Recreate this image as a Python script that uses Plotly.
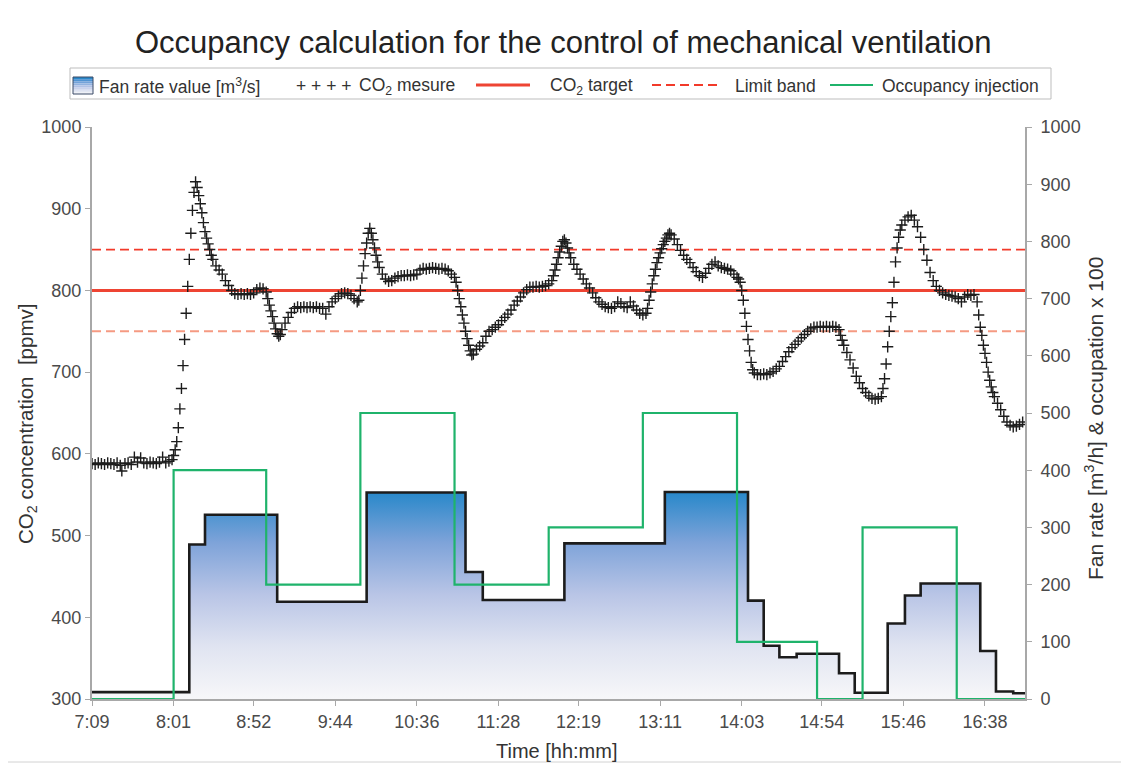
import plotly.graph_objects as go

title_text = "Occupancy calculation for the control of mechanical ventilation"

x_tick_labels = ["7:09", "8:01", "8:52", "9:44", "10:36", "11:28", "12:19",
                 "13:11", "14:03", "14:54", "15:46", "16:38"]
x_start = "7:09"
x_end = "17:03:30"

co2_time = [
    "7:09", "7:11", "7:13", "7:15", "7:17", "7:19", "7:21", "7:23", "7:25", "7:27",
    "7:28", "7:30", "7:32", "7:34", "7:36", "7:38", "7:40", "7:42", "7:44", "7:46",
    "7:48", "7:50", "7:52", "7:54", "7:56", "7:58", "8:00", "8:01", "8:02", "8:03",
    "8:04", "8:05", "8:06", "8:07", "8:08", "8:09", "8:10", "8:11", "8:12", "8:13",
    "8:14", "8:15", "8:16", "8:17", "8:18", "8:19", "8:20", "8:21", "8:22", "8:23",
    "8:24", "8:25", "8:26", "8:28", "8:30", "8:32", "8:34", "8:36", "8:38", "8:40",
    "8:42", "8:44", "8:46", "8:48", "8:50", "8:52", "8:54", "8:56", "8:58", "9:00",
    "9:01", "9:02", "9:03", "9:04", "9:05", "9:06", "9:07", "9:08", "9:09", "9:10",
    "9:12", "9:14", "9:16", "9:18", "9:20", "9:22", "9:24", "9:26", "9:28", "9:30",
    "9:32", "9:34", "9:36", "9:38", "9:40", "9:42", "9:44", "9:46", "9:48", "9:50",
    "9:52", "9:54", "9:56", "9:58", "9:59", "10:00", "10:01", "10:02", "10:03", "10:04",
    "10:05", "10:06", "10:07", "10:08", "10:09", "10:10", "10:11", "10:12", "10:14", "10:16",
    "10:18", "10:20", "10:22", "10:24", "10:26", "10:28", "10:30", "10:32", "10:34", "10:36",
    "10:38", "10:40", "10:42", "10:44", "10:46", "10:48", "10:50", "10:52", "10:54", "10:56",
    "10:58", "11:00", "11:01", "11:02", "11:03", "11:04", "11:05", "11:06", "11:07", "11:08",
    "11:09", "11:10", "11:11", "11:12", "11:14", "11:16", "11:18", "11:20", "11:22", "11:24",
    "11:26", "11:28", "11:30", "11:32", "11:34", "11:36", "11:38", "11:40", "11:42", "11:44",
    "11:46", "11:48", "11:50", "11:52", "11:54", "11:56", "11:58", "12:00", "12:02", "12:03",
    "12:04", "12:05", "12:06", "12:07", "12:08", "12:09", "12:10", "12:11", "12:12", "12:13",
    "12:14", "12:16", "12:18", "12:20", "12:22", "12:24", "12:26", "12:28", "12:30", "12:32",
    "12:34", "12:36", "12:38", "12:40", "12:42", "12:44", "12:46", "12:48", "12:50", "12:52",
    "12:54", "12:56", "12:58", "13:00", "13:02", "13:03", "13:04", "13:05", "13:06", "13:07",
    "13:08", "13:09", "13:10", "13:11", "13:12", "13:13", "13:14", "13:15", "13:16", "13:17",
    "13:18", "13:20", "13:22", "13:24", "13:26", "13:28", "13:30", "13:32", "13:34", "13:36",
    "13:38", "13:40", "13:42", "13:44", "13:46", "13:48", "13:50", "13:52", "13:54", "13:56",
    "13:58", "14:00", "14:01", "14:02", "14:03", "14:04", "14:05", "14:06", "14:07", "14:08",
    "14:09", "14:10", "14:11", "14:13", "14:15", "14:17", "14:19", "14:21", "14:23", "14:25",
    "14:27", "14:29", "14:31", "14:33", "14:35", "14:37", "14:39", "14:41", "14:43", "14:45",
    "14:47", "14:49", "14:51", "14:53", "14:55", "14:57", "14:59", "15:01", "15:03", "15:05",
    "15:06", "15:07", "15:08", "15:10", "15:12", "15:14", "15:16", "15:18", "15:20", "15:22",
    "15:24", "15:26", "15:28", "15:30", "15:32", "15:33", "15:34", "15:35", "15:36", "15:37",
    "15:38", "15:39", "15:40", "15:41", "15:42", "15:43", "15:44", "15:45", "15:47", "15:49",
    "15:51", "15:53", "15:55", "15:57", "15:59", "16:01", "16:03", "16:05", "16:07", "16:09",
    "16:11", "16:13", "16:15", "16:17", "16:19", "16:21", "16:23", "16:25", "16:27", "16:29",
    "16:31", "16:33", "16:34", "16:35", "16:36", "16:37", "16:38", "16:39", "16:40", "16:41",
    "16:42", "16:43", "16:44", "16:46", "16:48", "16:50", "16:52", "16:54", "16:56", "16:58",
    "17:00", "17:02",
]
co2_ppm = [
    588, 587, 589, 588, 587, 589, 588, 587, 589, 586,
    579, 588, 589, 587, 596, 590, 595, 589, 588, 590,
    589, 588, 590, 596, 589, 591, 593, 598, 605, 615,
    632, 655, 680, 708, 740, 772, 805, 838, 870, 898,
    920, 933, 926, 916, 906, 895, 883, 872, 864, 857,
    850, 843, 838, 830, 825, 820, 812, 806, 800, 796,
    795, 796, 795, 796, 795, 797, 801, 803, 802, 798,
    790, 782, 775, 768, 760, 753, 747, 744, 746, 752,
    760, 767, 773, 778, 780, 779, 780, 779, 780, 779,
    780, 778, 778, 771, 780, 786, 790, 793, 796, 797,
    796, 794, 790, 786, 788, 800, 815, 830, 845, 858,
    870, 876, 870, 862, 852, 843, 835, 828, 820, 814,
    811, 812, 815, 817, 818, 818, 819, 818, 819, 820,
    825, 827, 826, 827, 828, 827, 826, 827, 826, 824,
    820, 816, 810, 800, 790, 780, 770, 760, 750, 741,
    733, 726, 721, 722, 728, 732, 736, 744, 750, 752,
    755, 758, 763, 767, 771, 776, 782, 787, 792, 797,
    801, 804, 804, 805, 804, 805, 806, 808, 812, 818,
    825, 832, 840, 847, 854, 860, 862, 858, 852, 846,
    840, 832, 826, 820, 814, 808, 803, 797, 791, 786,
    783, 780, 779, 778, 780, 786, 784, 780, 779, 786,
    781, 776, 772, 770, 772, 778, 788, 798, 808, 818,
    826, 834, 840, 846, 851, 856, 860, 864, 868, 870,
    868, 863, 856, 849, 843, 838, 834, 828, 823, 818,
    816, 821, 827, 832, 835, 830, 828, 827, 826, 824,
    820, 816, 814, 810, 800, 788, 772, 756, 740, 726,
    712, 703, 699, 697, 697, 698, 697, 699, 701, 704,
    707, 713, 719, 725, 730, 734, 738, 742, 746, 750,
    753, 755, 755, 756, 755, 756, 755, 756, 755, 752,
    745, 739, 733, 724, 715, 705, 695, 687, 680, 675,
    671, 668, 667, 668, 670, 680, 692, 710, 731, 750,
    768, 785, 810, 835, 852, 865, 874, 880, 886, 890,
    892, 886, 878, 865, 850, 837, 822, 812, 805, 800,
    797, 795, 794, 793, 792, 790, 786, 792, 795, 794,
    795, 786, 770, 755, 745, 733, 723, 712, 700, 690,
    682, 675, 670, 662, 654, 646, 639, 635, 633, 634,
    636, 639,
]

fan_time = ["7:09", "8:11", "8:21", "9:07", "10:04", "11:07", "11:18", "12:10",
            "13:14", "14:07", "14:17", "14:27", "14:38", "15:05", "15:15", "15:36",
            "15:47", "15:57", "16:35", "16:45", "16:56", "17:03:30"]
fan_rate = [12, 270, 322, 170, 361, 222, 173, 272,
            362, 172, 93, 73, 79, 45, 11, 132,
            181, 202, 84, 13, 10, 10]

occ_time = ["7:09", "8:01", "9:00", "10:00", "11:00", "12:00", "13:00",
            "14:00", "14:51", "15:20", "16:20", "17:03:30"]
occ_value = [0, 400, 200, 500, 200, 300, 500, 100, 0, 300, 0, 0]

co2_target = 800
limit_high = 850
limit_low = 750


def to_min(s):
    parts = [int(p) for p in s.split(":")]
    m = parts[0] * 60 + parts[1]
    if len(parts) > 2:
        m += parts[2] / 60.0
    return m


x0 = to_min(x_start)
x1 = to_min(x_end)
FONT = "Liberation Sans, Arial, sans-serif"
RED_HI = "#f23a2a"
RED_LO = "#f59a82"

fig = go.Figure()

fig.add_trace(go.Scatter(
    x=[to_min(t) for t in fan_time], y=fan_rate, yaxis="y2",
    mode="lines", line=dict(shape="hv", color="#1c1c1c", width=2.6),
    fill="tozeroy",
    fillgradient=dict(type="vertical", start=0, stop=365,
                      colorscale=[[0, "#f7f7f9"], [0.25, "#e0e4f1"],
                                  [0.5, "#b9c5e6"], [0.75, "#7ea3d9"],
                                  [1, "#2587c9"]]),
    name="Fan rate", showlegend=False))

fig.add_trace(go.Scatter(
    x=[to_min(t) for t in occ_time], y=occ_value, yaxis="y2",
    mode="lines", line=dict(shape="hv", color="#1fb36b", width=2.2),
    name="Occupancy injection", showlegend=False))

fig.add_trace(go.Scatter(
    x=[x0, x1], y=[limit_high, limit_high], mode="lines",
    line=dict(color=RED_HI, width=1.8, dash="9px,5px"), showlegend=False))
fig.add_trace(go.Scatter(
    x=[x0, x1], y=[limit_low, limit_low], mode="lines",
    line=dict(color=RED_LO, width=2, dash="9px,5px"), showlegend=False))
fig.add_trace(go.Scatter(
    x=[x0, x1], y=[co2_target, co2_target], mode="lines",
    line=dict(color="#ee4433", width=3), showlegend=False))

fig.add_trace(go.Scatter(
    x=[to_min(t) for t in co2_time], y=co2_ppm, mode="markers",
    marker=dict(symbol="cross-thin", size=8, color="#1c1c1c",
                line=dict(width=1.4, color="#1c1c1c")),
    showlegend=False))

# page-pixel geometry of the plot area (page has an 8px body margin)
OFF = 8
W, H = 1129, 766
PL, PR, PT, PB = 92, 1025, 127, 699


def px(x):
    return (x - PL) / (PR - PL)


def py(y):
    return (PB - y) / (PB - PT)


shapes = []
annotations = []

shapes.append(dict(type="rect", xref="paper", yref="paper",
                   x0=px(5), x1=px(1140), y0=py(762), y1=py(7),
                   line=dict(color="#d2d2d2", width=1), layer="below"))
shapes.append(dict(type="rect", xref="paper", yref="paper",
                   x0=px(70), x1=px(1051), y0=py(99), y1=py(68),
                   line=dict(color="#bdbdbd", width=1)))
grad_cols = ["#2a88c9", "#4f93d2", "#73a2d9", "#93b2df", "#b0c1e5",
             "#c9d2eb", "#dde2f1", "#eef0f6"]
n = len(grad_cols)
for i, c in enumerate(grad_cols):
    ya = 77 + i * (17 / n)
    yb = 77 + (i + 1) * (17 / n)
    shapes.append(dict(type="rect", xref="paper", yref="paper",
                       x0=px(73), x1=px(93), y0=py(yb), y1=py(ya),
                       fillcolor=c, line=dict(width=0)))
shapes.append(dict(type="rect", xref="paper", yref="paper",
                   x0=px(73), x1=px(93), y0=py(94), y1=py(77),
                   line=dict(color="#3a4a66", width=1)))
shapes.append(dict(type="line", xref="paper", yref="paper",
                   x0=px(476), x1=px(530), y0=py(85), y1=py(85),
                   line=dict(color="#ee4433", width=3)))
shapes.append(dict(type="line", xref="paper", yref="paper",
                   x0=px(652), x1=px(720), y0=py(85), y1=py(85),
                   line=dict(color=RED_HI, width=1.8, dash="9px,5px")))
shapes.append(dict(type="line", xref="paper", yref="paper",
                   x0=px(830), x1=px(873), y0=py(85), y1=py(85),
                   line=dict(color="#1fb36b", width=2.2)))

leg_font = dict(family=FONT, size=17.5, color="#333333")
for xpos, txt in [(97, "Fan rate value [m<sup>3</sup>/s]"),
                  (294, "+ + + +"),
                  (357, "CO<sub>2</sub> mesure"),
                  (548, "CO<sub>2</sub> target"),
                  (733, "Limit band"),
                  (880, "Occupancy injection")]:
    annotations.append(dict(xref="paper", yref="paper", x=px(xpos), y=py(86),
                            text=txt, showarrow=False, xanchor="left",
                            yanchor="middle", font=leg_font))

annotations.append(dict(xref="paper", yref="paper", x=px(563), y=py(43),
                        text=title_text, showarrow=False, xanchor="center",
                        yanchor="middle",
                        font=dict(family=FONT, size=31, color="#222222")))
annotations.append(dict(xref="paper", yref="paper", x=px(27), y=py(424),
                        text="CO<sub>2</sub> concentration  [ppmv]",
                        textangle=-90, showarrow=False, xanchor="center",
                        yanchor="middle",
                        font=dict(family=FONT, size=20.5, color="#333333")))
annotations.append(dict(xref="paper", yref="paper", x=px(1094), y=py(419),
                        text="Fan rate [m<sup>3</sup>/h] &amp; occupation x 100",
                        textangle=-90, showarrow=False, xanchor="center",
                        yanchor="middle",
                        font=dict(family=FONT, size=21, color="#333333")))
annotations.append(dict(xref="paper", yref="paper", x=px(557), y=py(751),
                        text="Time [hh:mm]", showarrow=False, xanchor="center",
                        yanchor="middle",
                        font=dict(family=FONT, size=20, color="#333333")))

tick_font = dict(family=FONT, size=18, color="#4a4a4a")
axis_common = dict(showgrid=False, zeroline=False, showline=True,
                   linecolor="#a8a8a8", linewidth=2, ticks="outside",
                   ticklen=5, tickcolor="#a8a8a8", tickwidth=1,
                   tickfont=tick_font)

fig.update_layout(
    width=W - OFF, height=H - OFF,
    margin=dict(l=PL - OFF, r=W - PR, t=PT - OFF, b=H - PB,
                autoexpand=False),
    paper_bgcolor="white", plot_bgcolor="white",
    showlegend=False,
    xaxis=dict(range=[x0, x1], tickvals=[to_min(t) for t in x_tick_labels],
               ticktext=x_tick_labels, **axis_common),
    yaxis=dict(range=[300, 1000], tickvals=list(range(300, 1001, 100)),
               **axis_common),
    yaxis2=dict(range=[0, 1000], tickvals=list(range(0, 1001, 100)),
                overlaying="y", side="right", anchor="x",
                ticklabelstandoff=5, **axis_common),
    shapes=shapes, annotations=annotations,
)

fig.write_html("out.html")
